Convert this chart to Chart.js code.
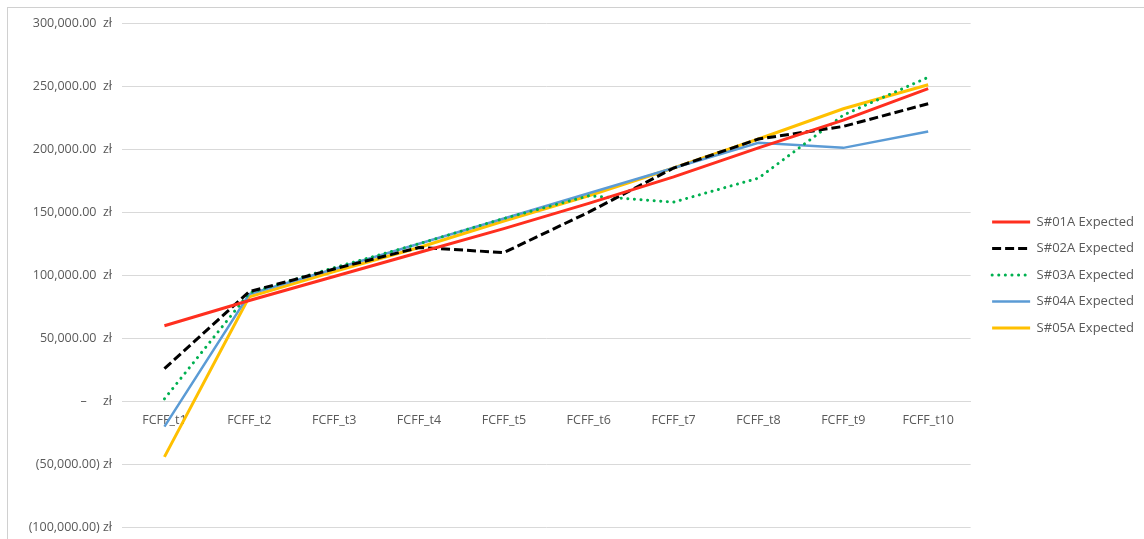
<!DOCTYPE html>
<html>
<head>
<meta charset="utf-8">
<script src="https://cdn.jsdelivr.net/npm/chart.js@4"></script>
<style>
html,body{margin:0;padding:0;background:#fff;overflow:hidden;}
#frame{position:absolute;left:7px;top:7px;width:1150px;height:560px;border:1px solid #d0d0d0;box-sizing:border-box;}
#wrap{position:absolute;left:0;top:0;width:1144px;height:545px;}
</style>
</head>
<body>
<div id="frame"></div>
<div id="wrap"><canvas id="c"></canvas></div>
<script>
const categories = ["FCFF_t1","FCFF_t2","FCFF_t3","FCFF_t4","FCFF_t5","FCFF_t6","FCFF_t7","FCFF_t8","FCFF_t9","FCFF_t10"];
const seriesNames = ["S#01A Expected","S#02A Expected","S#03A Expected","S#04A Expected","S#05A Expected"];
const s01 = [60000, 80000, 99000, 118000, 137000, 157000, 178000, 201000, 223000, 248000];
const s02 = [26000, 87000, 105000, 122000, 118000, 150000, 185000, 208000, 218000, 236000];
const s03 = [2000, 86000, 106000, 125000, 145000, 163000, 158000, 177000, 227000, 257000];
const s04 = [-20000, 85000, 105000, 125000, 145000, 165000, 185000, 205000, 201000, 214000];
const s05 = [-44000, 83000, 103000, 122000, 143000, 163000, 185000, 208000, 232000, 251000];
const yTicks = [300000, 250000, 200000, 150000, 100000, 50000, 0, -50000, -100000];

function fmt(v){
  if (v === 0) return "–     zł";
  const s = Math.abs(v).toLocaleString("en-US",{minimumFractionDigits:2,maximumFractionDigits:2});
  return v < 0 ? "(" + s + ") zł" : s + "  zł";
}

const shiftLegend = {
  id:"shiftLegend",
  afterLayout(chart){ if (chart.legend){ chart.legend.top -= 7; chart.legend.bottom -= 7; } }
};

const font = {family:"'Open Sans', sans-serif", size:12.5};
new Chart(document.getElementById("c"), {
  type: "line",
  plugins:[shiftLegend],
  data: {
    labels: categories,
    datasets: [
      {label: seriesNames[0], data: s01, borderColor:"#FF2F1F", borderWidth:3},
      {label: seriesNames[1], data: s02, borderColor:"#000000", borderWidth:3, borderDash:[9,4]},
      {label: seriesNames[2], data: s03, borderColor:"#00B050", borderWidth:3, borderDash:[0.1,6.5], borderCapStyle:"round"},
      {label: seriesNames[3], data: s04, borderColor:"#5B9BD5", borderWidth:2.5},
      {label: seriesNames[4], data: s05, borderColor:"#FFC000", borderWidth:3}
    ].map(d => Object.assign({pointRadius:0, tension:0, fill:false}, d))
  },
  options: {
    responsive:true, maintainAspectRatio:false, animation:false,
    layout:{padding:{top:23,bottom:4,left:0,right:0}},
    plugins:{
      tooltip:{enabled:false},
      legend:{
        position:"right",
        labels:{
          usePointStyle:true, pointStyle:"line", pointStyleWidth:38, boxHeight:8,
          color:"#595959", font:{family:"'Open Sans', sans-serif", size:13}, padding:13.5,
          generateLabels: chart => chart.data.datasets.map((ds,i) => ({
            text: ds.label, datasetIndex:i, hidden:false,
            strokeStyle: ds.borderColor, fillStyle: ds.borderColor,
            lineWidth: ds.borderWidth, lineDash: ds.borderDash || [],
            lineCap: ds.borderCapStyle || "butt", pointStyle:"line", fontColor:"#595959"
          }))
        }
      }
    },
    scales:{
      x:{
        position:{y:0},
        offset:true,
        grid:{display:false, drawTicks:false},
        border:{display:true, color:"#d9d9d9", width:1},
        ticks:{color:"#595959", font:font, padding:12, maxRotation:0}
      },
      y:{
        min:-100000, max:300000,
        afterBuildTicks: ax => { ax.ticks = yTicks.map(v => ({value:v})); },
        afterFit: ax => { ax.width = 122; },
        grid:{color:"#d9d9d9", drawTicks:false},
        border:{display:false},
        ticks:{color:"#595959", font:font, padding:10, callback: v => fmt(v)}
      },
      spacer:{
        type:"linear", position:"right", display:true,
        grid:{display:false, drawTicks:false}, border:{display:false},
        ticks:{display:false},
        afterFit: ax => { ax.width = 8; }
      }
    }
  }
});
</script>
</body>
</html>
